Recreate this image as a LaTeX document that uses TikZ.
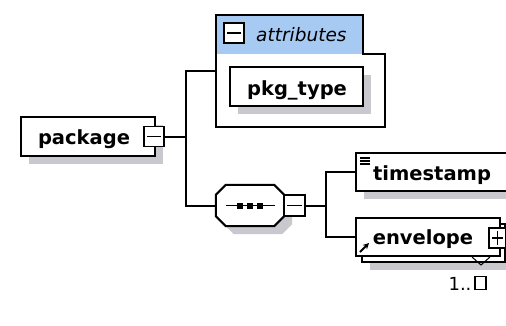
\documentclass[tikz,border=0pt]{standalone}
\usepackage{fontspec}
\setmainfont{DejaVu Sans}
\usetikzlibrary{shadows,calc,arrows.meta}
\definecolor{shd}{RGB}{200,200,206}
\definecolor{hdr}{RGB}{166,202,242}
\tikzset{
  shad/.style={drop shadow={shadow xshift=8pt, shadow yshift=-8pt, fill=shd, opacity=1}},
  elem/.style={draw=black, line width=2pt, fill=white, inner sep=0pt},
  txt/.style={inner sep=0pt, font=\fontsize{19.5}{21}\selectfont\bfseries},
  conn/.style={line width=2pt},
  minusbox/.style={draw=black, line width=1.8pt, fill=white, inner sep=0pt, minimum width=20pt, minimum height=20pt,
    path picture={\draw[line width=1.5pt] ($(path picture bounding box.west)+(3,0)$) -- ($(path picture bounding box.east)+(-3,0)$);}},
  plusbox/.style={draw=black, line width=1.8pt, fill=white, inner sep=0pt, minimum width=17pt, minimum height=20pt,
    path picture={\draw[line width=1.5pt] ($(path picture bounding box.west)+(3,0)$) -- ($(path picture bounding box.east)+(-3,0)$);
      \draw[line width=1.5pt] ($(path picture bounding box.north)+(0,3)$) -- ($(path picture bounding box.south)+(0,-3)$);}}
}
\begin{document}
\begin{tikzpicture}[x=1pt,y=-1pt]
\useasboundingbox (0,0) rectangle (506,325);
\fill[white] (0,0) rectangle (506,325);
\clip (0,0) rectangle (506,325);

% package element
\node[elem, shad, minimum width=134pt, minimum height=39pt] (package) at (88,136.5) {};
\node[txt, anchor=base] (packageT) at (84,144) {package};
\node[minusbox] (pkgminus) at (154,136.5) {};

% attributes group
\node[inner sep=0pt, minimum width=169pt, minimum height=112pt] (attrs) at (300.5,71) {};
\fill[hdr] (216,15) rectangle (363,54);
\draw[line width=2pt] (216,127) -- (216,15) -- (363,15) -- (363,54) -- (385,54) -- (385,127) -- cycle;
\node[minusbox] (attrminus) at (234,33) {};
\node[inner sep=0pt, anchor=base west, font=\fontsize{18.5}{20}\selectfont\itshape] (attrT) at (256,41.5) {attributes};
\node[elem, shad, minimum width=133pt, minimum height=39pt] (pkgtype) at (296.5,86.5) {};
\node[txt, anchor=base] (pkgtypeT) at (297,95) {pkg\_type};

% sequence compositor
\node[inner sep=0pt, minimum width=68pt, minimum height=41pt] (seq) at (250,205.5) {};
\draw[line width=2pt, fill=white, shad]
  ($(seq.north west)+(10,0)$) -- ($(seq.north east)+(-10,0)$) -- ($(seq.north east)+(0,10)$) --
  ($(seq.south east)+(0,-10)$) -- ($(seq.south east)+(-10,0)$) -- ($(seq.south west)+(10,0)$) --
  ($(seq.south west)+(0,-10)$) -- ($(seq.north west)+(0,10)$) -- cycle;
\draw[line width=1.6pt] ($(seq.west)+(10,0)$) -- ($(seq.east)+(-9,0)$);
\foreach \dx in {-10,0,10} \fill ($(seq.center)+(\dx,0)$) ++(-3,-3) rectangle ++(6,6);
\node[minusbox, minimum width=21pt, minimum height=21pt] (seqminus) at (294.5,205.5) {};

% timestamp
\node[elem, shad, minimum width=156pt, minimum height=38pt] (timestamp) at (434,172) {};
\node[txt, anchor=base] (timestampT) at (432,180) {timestamp};
\draw[line width=1.1pt] (360,158) -- (370,158) (360,161) -- (370,161) (360,164) -- (370,164);

% envelope (repeated)
\node[elem, shad, minimum width=143pt, minimum height=38pt] (envback) at (433.5,243) {};
\node[elem, minimum width=144pt, minimum height=38pt] (envelope) at (428,237) {};
\node[txt, anchor=base] (envelopeT) at (423,244) {envelope};
\draw[line width=2pt, -{Stealth[length=6pt,width=6pt]}] (360,252) -- (369,243);
\node[plusbox] (envplus) at (497.5,238) {};
\coordinate (tri) at (481,265);
\draw[line width=1pt] (472,257) -- (tri) -- (490,257);
\node[inner sep=0pt, anchor=base, font=\fontsize{18}{20}\selectfont] (occurs) at (460,290) {1..};
\node[draw, line width=1.8pt, inner sep=0pt, minimum width=11pt, minimum height=13pt] (occursbox) at (480.5,283) {};

% connectors
\coordinate (t1) at (186,136.5);
\draw[conn] (pkgminus.east) -- (t1);
\draw[conn] (attrs.west) -| (t1) |- (seq.west);
\coordinate (t2) at (326,205.5);
\draw[conn] (seqminus.east) -- (t2);
\draw[conn] (timestamp.west) -| (t2) |- (envelope.west);
\end{tikzpicture}
\end{document}
